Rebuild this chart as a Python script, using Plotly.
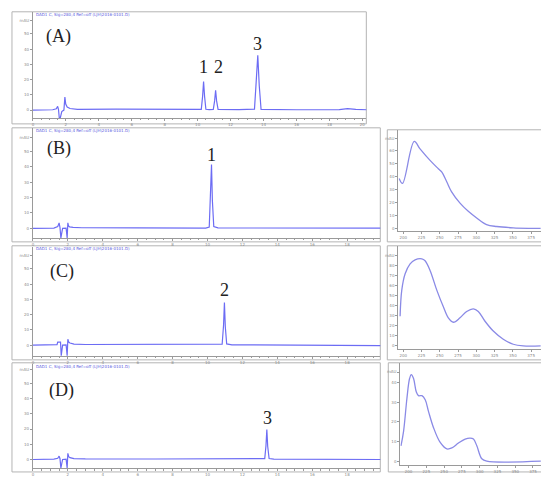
import plotly.graph_objects as go

W, H = 541, 477


def fx(p):
    return p / W


def fy(p):
    return 1 - p / H


# ---------------- chromatogram data (time in min, signal in mAU) ----------------
A_t = [0, 1.2, 1.42, 1.50, 1.55, 1.60, 1.66, 1.75, 1.88, 1.94, 1.99, 2.08, 2.25, 2.7, 5.0, 8.0,
       10.0, 10.22, 10.30, 10.36, 10.42, 10.50, 10.70, 10.95, 11.03, 11.09, 11.15, 11.24,
       12.5, 13.45, 13.55, 13.65, 13.74, 13.85, 16.0, 18.6, 19.1, 19.6, 20.3]
A_y = [0, 0.2, 0.8, 2.4, 0.5, -5.2, -5.2, -1.0, 0.0, 8.6, 4.0, 2.0, 1.0, 0.5, 0.6, 0.5,
       0.3, 0.5, 9.0, 18.7, 9.0, 0.5, 0.3, 0.4, 6.0, 13.0, 6.0, 0.4,
       0.3, 0.6, 18.0, 36.0, 16.0, 0.4, 0.2, 0.3, 1.0, 0.4, 0.2]

B_t = [0, 1.2, 1.42, 1.50, 1.55, 1.60, 1.70, 1.90, 1.96, 2.00, 2.04, 2.10, 2.30, 2.8, 6.0,
       9.9, 10.10, 10.18, 10.23, 10.28, 10.36, 10.6, 14.0, 18.0, 20.0]
B_y = [0, 0.2, 1.2, 3.5, 0.5, -6.2, 0.0, 0.2, -6.2, 3.6, 1.5, 1.0, 0.6, 0.4, 0.3,
       0.2, 0.8, 20.0, 41.4, 18.0, 1.2, 0.3, 0.2, 0.1, 0.1]

C_t = [0, 1.2, 1.38, 1.42, 1.58, 1.62, 1.70, 1.90, 1.96, 2.00, 2.05, 2.12, 2.35, 3.0, 6.0,
       10.6, 10.84, 10.92, 10.97, 11.02, 11.10, 11.4, 15.0, 18.0, 20.0]
C_y = [0, 0.2, 0.3, 2.0, 2.0, -7.0, 0.0, 0.2, -7.0, 3.9, 2.0, 1.4, 0.6, 0.4, 0.3,
       0.2, 0.6, 13.0, 27.9, 12.0, 0.8, 0.2, 0.0, -0.3, -0.3]

D_t = [0, 1.2, 1.42, 1.50, 1.55, 1.60, 1.70, 1.90, 1.96, 2.00, 2.05, 2.12, 2.35, 3.0, 7.0,
       13.1, 13.28, 13.35, 13.40, 13.45, 13.53, 13.8, 17.0, 20.0]
D_y = [0, 0.2, 0.8, 2.2, 0.5, -5.6, 0.0, 0.2, -5.6, 4.0, 1.8, 1.2, 0.6, 0.4, 0.3,
       0.2, 0.6, 9.0, 19.7, 8.5, 0.6, 0.2, 0.1, 0.0]

# ---------------- UV spectra data (wavelength in nm, absorbance in mAU) ----------------
B_wl = [194.4, 199.0, 215.0, 223.0, 236.7, 248.0, 252.6, 259.5, 266.0, 277.7, 289.0,
        300.5, 314.0, 328.0, 350.5, 373.0, 388.0]
B_ab = [38.5, 34.7, 67.0, 61.3, 52.4, 46.0, 43.5, 36.0, 28.4, 19.5, 13.2,
        8.1, 3.0, 1.5, 0.5, 0.1, 0.0]

C_wl = [195.7, 198.0, 202.6, 209.4, 216.2, 225.4, 229.9, 236.7, 245.9, 254.9, 261.7, 268.6,
        277.7, 286.8, 295.9, 302.7, 311.9, 323.2, 336.9, 350.5, 364.2, 388.0]
C_ab = [29.5, 55.7, 72.0, 82.0, 86.0, 87.0, 85.0, 75.4, 55.7, 39.0, 28.0, 23.6,
        28.0, 34.4, 37.0, 34.4, 24.6, 14.8, 6.6, 1.6, 0.0, 0.0]

D_wl = [189.3, 193.0, 197.7, 201.4, 203.8, 207.0, 210.8, 214.0, 218.8, 223.4, 228.0, 235.1,
        244.5, 253.9, 260.9, 270.2, 279.6, 286.6, 291.3, 296.0, 303.0, 310.0, 386.0]
D_ab = [7.8, 15.3, 32.0, 42.0, 44.0, 42.0, 35.3, 33.3, 33.3, 31.2, 25.3, 17.0,
        9.5, 6.2, 6.7, 9.2, 11.2, 11.7, 11.2, 7.8, 1.2, 0.0, 0.0]

# ---------------- tick labels ----------------
chrom_ticks = [0, 2, 4, 6, 8, 10, 12, 14, 16, 18, 20]
chrom_ticktext = [str(v) for v in chrom_ticks]
spec_ticks = [200, 225, 250, 275, 300, 325, 350, 375]
spec_ticktext = [str(v) for v in spec_ticks]

panel_letters = ["(A)", "(B)", "(C)", "(D)"]
header_text = "DAD1 C, Sig=280,4 Ref=off (LJH\\2016-0101.D)"

LINE = "#6c6cf4"
SPEC = "#8a8ae6"
AX = "#9a9a9a"
TICKF = dict(size=4, color="#8a8a8a", family="DejaVu Sans")

fig = go.Figure()

chroms = [(A_t, A_y), (B_t, B_y), (C_t, C_y), (D_t, D_y)]
for i, (t, y) in enumerate(chroms):
    fig.add_trace(go.Scatter(x=t, y=y, mode="lines", line=dict(color=LINE, width=1.2),
                             xaxis=f"x{i + 1}" if i else "x", yaxis=f"y{i + 1}" if i else "y",
                             showlegend=False, hoverinfo="skip"))
specs = [(B_wl, B_ab), (C_wl, C_ab), (D_wl, D_ab)]
for j, (w, a) in enumerate(specs):
    k = j + 5
    fig.add_trace(go.Scatter(x=w, y=a, mode="lines", line=dict(color=SPEC, width=1.3, shape="spline"),
                             xaxis=f"x{k}", yaxis=f"y{k}", showlegend=False, hoverinfo="skip"))

chrom_geo = [
    dict(xd=(32, 366), yd=(12, 120), xr=(0, 20.24), yr=(-5.2, 64.5), mau=58.7),
    dict(xd=(32, 380), yd=(130, 242), xr=(0, 19.9), yr=(-6.2, 65.2), mau=59.0),
    dict(xd=(32, 380), yd=(251, 362), xr=(0, 19.9), yr=(-7.1, 64.5), mau=58.8),
    dict(xd=(32, 380), yd=(370, 476), xr=(0, 19.9), yr=(-5.6, 62.8), mau=59.0),
]
spec_geo = [
    dict(xd=(398, 541), yd=(132, 235), xr=(193.2, 388.5), yr=(-2, 76), yt=list(range(0, 61, 10)), mau=69.4),
    dict(xd=(398, 541), yd=(250, 355), xr=(193.2, 388.5), yr=(-3.2, 100), yt=list(range(0, 81, 10)), mau=90.2),
    dict(xd=(400, 541), yd=(369, 473), xr=(188.3, 386.3), yr=(-2, 50), yt=list(range(0, 41, 10)), mau=45.3),
]


def axis_common():
    return dict(showline=True, linecolor=AX, linewidth=1, ticks="outside", ticklen=2,
                tickcolor=AX, tickwidth=1, tickfont=TICKF, showgrid=False, zeroline=False,
                fixedrange=True)


layout = {}
for i, g in enumerate(chrom_geo):
    n = i + 1
    xn = "xaxis" if n == 1 else f"xaxis{n}"
    yn = "yaxis" if n == 1 else f"yaxis{n}"
    yt = [0, 10, 20, 30, 40, 50, g["mau"]]
    layout[xn] = dict(axis_common(), domain=[fx(g["xd"][0]), fx(g["xd"][1])], range=list(g["xr"]),
                      anchor="y" if n == 1 else f"y{n}", tickvals=chrom_ticks, ticktext=chrom_ticktext,
                      minor=dict(ticks="outside", ticklen=1.5, tickcolor=AX, dtick=0.5))
    layout[yn] = dict(axis_common(), domain=[fy(g["yd"][1]), fy(g["yd"][0])], range=list(g["yr"]),
                      anchor="x" if n == 1 else f"x{n}", tickvals=yt,
                      ticktext=[str(v) for v in yt[:-1]] + ["mAU"])
for j, g in enumerate(spec_geo):
    n = j + 5
    yt = g["yt"] + [g["mau"]]
    layout[f"xaxis{n}"] = dict(axis_common(), domain=[fx(g["xd"][0]), fx(g["xd"][1])], range=list(g["xr"]),
                               anchor=f"y{n}", tickvals=spec_ticks, ticktext=spec_ticktext)
    layout[f"yaxis{n}"] = dict(axis_common(), domain=[fy(g["yd"][1]), fy(g["yd"][0])], range=list(g["yr"]),
                               anchor=f"x{n}", tickvals=yt,
                               ticktext=[str(v) for v in g["yt"]] + ["mAU"])

frames = [(11, 12, 366, 126), (11, 130, 380, 246), (11, 250, 380, 366), (11, 369, 380, 480),
          (387, 132, 545, 246), (387, 250, 545, 366), (388, 369, 545, 480)]
shapes = []
for (x0, y0, x1, y1) in frames:
    shapes.append(dict(type="rect", xref="paper", yref="paper", x0=fx(x0), x1=fx(x1),
                       y0=fy(y1), y1=fy(y0), line=dict(color="#b4b4b4", width=1),
                       fillcolor="rgba(0,0,0,0)", layer="below"))

annotations = []
letter_pos = [(58, 37), (58, 151), (61, 276), (61, 397)]
for txt, (px, py) in zip(panel_letters, letter_pos):
    annotations.append(dict(text=txt, xref="paper", yref="paper", x=fx(px), y=fy(py),
                            showarrow=False, xanchor="center", yanchor="middle",
                            font=dict(family="Liberation Serif", size=18, color="#222")))
for (px, py) in [(33, 14.5), (33, 133), (33, 253), (33, 372.5)]:
    annotations.append(dict(text=header_text, xref="paper", yref="paper", x=fx(px), y=fy(py),
                            showarrow=False, xanchor="left", yanchor="middle",
                            font=dict(family="DejaVu Sans", size=4, color="#5a5ae0")))

peak_labels = [(1, 10.36, 28.4, "1"), (1, 11.25, 28.4, "2"), (1, 13.65, 43.2, "3"),
               (2, 10.23, 47.3, "1"), (3, 10.97, 36.1, "2"), (4, 13.45, 27.3, "3")]
for (ax, t, v, lab) in peak_labels:
    annotations.append(dict(text=lab, xref="x" if ax == 1 else f"x{ax}", yref="y" if ax == 1 else f"y{ax}",
                            x=t, y=v, showarrow=False, xanchor="center", yanchor="middle",
                            font=dict(family="Liberation Serif", size=18, color="#222")))

fig.update_layout(width=W, height=H, margin=dict(l=0, r=0, t=0, b=0), paper_bgcolor="white",
                  plot_bgcolor="white", showlegend=False, shapes=shapes, annotations=annotations,
                  **layout)

fig.write_html("out.html")
